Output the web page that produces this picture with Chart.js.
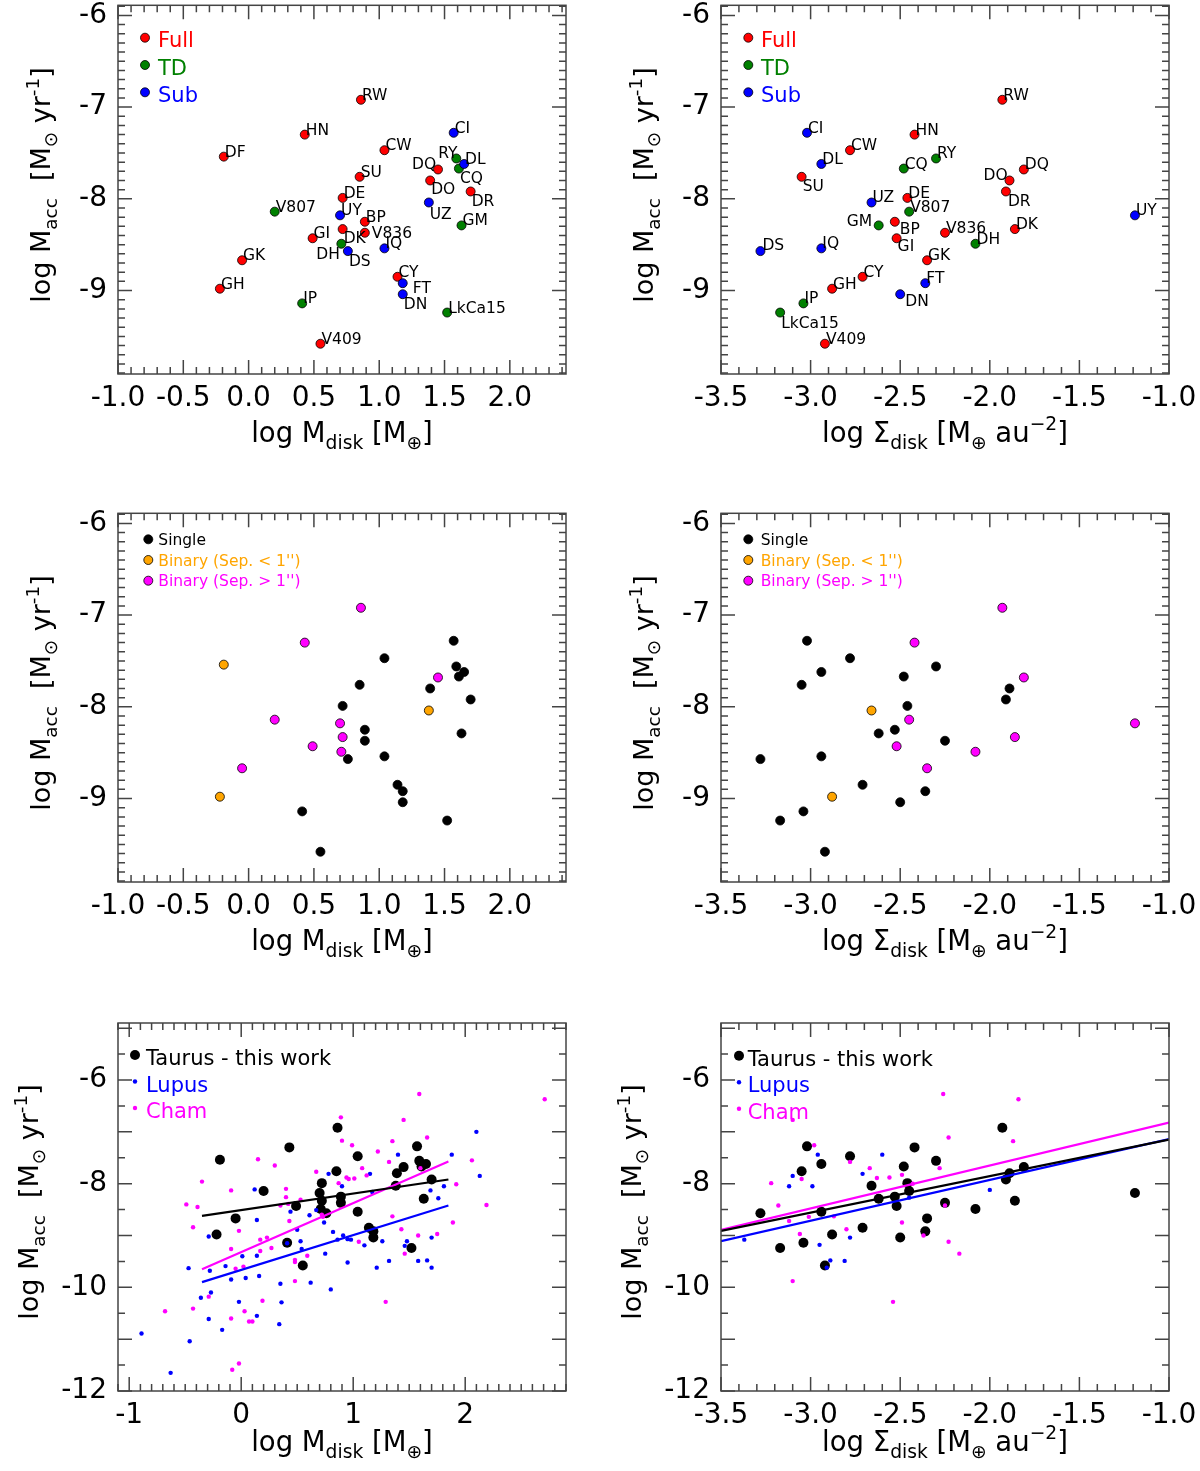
<!DOCTYPE html>
<html>
<head>
<meta charset="UTF-8">
<title>Accretion rate vs disk mass</title>
<script src="https://cdn.jsdelivr.net/npm/chart.js"></script>
<style>
  body { margin: 0; background: #fff; }
  #page { position: relative; width: 1200px; height: 1471px; }
  canvas { position: absolute; }
</style>
</head>
<body>
<div id="page">
  <canvas id="tl" width="600" height="508" style="left:0;top:0"></canvas>
  <canvas id="tr" width="600" height="508" style="left:600px;top:0"></canvas>
  <canvas id="ml" width="600" height="510" style="left:0;top:508px"></canvas>
  <canvas id="mr" width="600" height="510" style="left:600px;top:508px"></canvas>
  <canvas id="bl" width="600" height="453" style="left:0;top:1018px"></canvas>
  <canvas id="br" width="600" height="453" style="left:600px;top:1018px"></canvas>
</div>
<script>
// Taurus sample (this work)
const taurusNames = ['RW','HN','DF','CW','CI','RY','DL','DQ','CQ','SU','DO','DR','DE','UZ','V807','UY',
  'BP','GM','DK','V836','GI','DH','DS','IQ','GK','CY','FT','GH','DN','IP','LkCa15','V409'];
const logMdisk = [0.86,0.43,-0.19,1.04,1.57,1.59,1.65,1.45,1.61,0.85,1.39,1.70,0.72,1.38,0.20,0.70,
  0.89,1.63,0.72,0.89,0.49,0.71,0.76,1.04,-0.05,1.14,1.18,-0.22,1.18,0.41,1.52,0.55];
const logSigma = [-1.93,-2.42,null,-2.78,-3.02,-2.30,-2.94,-1.81,-2.48,-3.05,-1.89,-1.91,-2.46,-2.66,-2.45,-1.19,
  -2.53,-2.62,-1.86,-2.25,-2.52,-2.08,-3.28,-2.94,-2.35,-2.71,-2.36,-2.88,-2.50,-3.04,-3.17,-2.92];
const logMacc = [-6.92,-7.30,-7.54,-7.47,-7.28,-7.56,-7.62,-7.68,-7.67,-7.76,-7.80,-7.92,-7.99,-8.04,-8.14,-8.18,
  -8.25,-8.29,-8.33,-8.37,-8.43,-8.49,-8.57,-8.54,-8.67,-8.85,-8.92,-8.98,-9.04,-9.14,-9.24,-9.58];
const diskType = ['Full','Full','Full','Full','Sub','TD','Sub','Full','TD','Full','Full','Full','Full','Sub','TD','Sub',
  'Full','TD','Full','Full','Full','TD','Sub','Sub','Full','Full','Sub','Full','Sub','TD','TD','Full'];
const multiplicity = ['B>1','B>1','B<1','S','S','S','S','B>1','S','S','S','S','S','B<1','B>1','B>1',
  'S','S','B>1','S','B>1','B>1','S','S','B>1','S','S','B<1','S','S','S','S'];

// Lupus comparison sample
const lupusMdisk = [-0.89,-0.63,-0.46,-0.47,-0.36,-0.29,-0.28,-0.27,-0.29,-0.17,-0.14,-0.09,-0.02,0.01,0.04,0.12,
  0.14,0.14,0.14,0.16,0.35,0.36,0.34,0.41,0.44,0.50,0.53,0.54,0.61,0.62,0.67,0.74,0.75,0.78,0.80,0.82,0.86,0.90,
  0.91,0.95,0.95,0.98,1.10,1.15,1.17,1.21,1.26,1.32,1.40,1.46,1.48,1.58,1.66,1.69,1.70,1.70,1.76,1.81,1.88,2.10,2.13];
const lupusMaccM = [-10.89,-11.65,-11.04,-9.63,-10.20,-9.02,-9.68,-10.10,-10.61,-10.82,-9.59,-9.85,-10.28,-9.40,-9.82,-8.11,
  -8.70,-10.55,-9.39,-9.78,-9.93,-10.29,-10.71,-9.15,-8.54,-8.89,-9.11,-9.26,-8.61,-9.91,-8.51,-8.75,-9.35,-7.81,-10.04,-8.93,-9.08,-8.05,
  -9.00,-9.07,-9.52,-9.08,-9.19,-7.81,-8.16,-9.62,-9.11,-9.49,-7.44,-9.20,-9.11,-9.49,-9.48,-8.13,-9.04,-9.62,-8.28,-8.05,-7.44,-7.00,-7.85];
const lupusSigma = [-3.37,-3.12,-3.10,-2.99,-2.96,-2.95,-2.91,-2.89,-2.81,-2.78,-2.71,-2.60,-2.45,-2.00];
const lupusMaccS = [-9.08,-8.05,-7.85,-8.05,-7.44,-9.18,-9.62,-9.48,-9.49,-9.04,-7.81,-7.44,-8.27,-8.12];

// Chamaeleon comparison sample
const chamMdisk = [-0.68,-0.49,-0.43,-0.43,-0.39,-0.35,-0.29,-0.09,-0.09,-0.09,-0.08,-0.05,-0.02,-0.02,0.02,0.03,
  0.07,0.10,0.15,0.17,0.17,0.19,0.23,0.27,0.30,0.35,0.40,0.40,0.42,0.43,0.48,0.48,0.48,0.53,0.59,0.67,0.72,0.73,
  0.87,0.89,0.90,0.94,0.96,0.99,1.01,1.08,1.12,1.22,1.05,1.29,1.32,1.35,1.35,1.43,1.45,1.46,1.58,1.59,1.60,1.66,
  1.75,1.89,1.92,2.06,2.19,2.71];
const chamMaccM = [-10.46,-8.40,-8.84,-10.41,-8.45,-7.96,-10.18,-8.13,-9.26,-10.60,-11.59,-9.64,-8.91,-11.47,-9.60,-10.46,
  -10.66,-10.66,-7.53,-9.08,-9.30,-10.26,-9.04,-9.24,-7.65,-8.42,-8.10,-8.26,-8.39,-8.72,-9.47,-9.51,-9.88,-8.31,-9.39,-7.77,-8.60,-8.64,
  -7.99,-6.72,-7.17,-7.88,-7.91,-7.26,-7.90,-7.70,-7.84,-7.38,-9.12,-10.28,-7.58,-7.18,-8.63,-8.88,-6.77,-9.35,-9.00,-6.27,-7.70,-7.11,
  -8.97,-8.75,-8.01,-7.55,-8.41,-6.37];
const chamSigma = [-3.22,-3.18,-3.12,-3.10,-3.10,-3.06,-3.05,-3.01,-2.98,-2.87,-2.80,-2.78,-2.67,-2.63,-2.56,-2.54,
  -2.49,-2.49,-2.43,-2.37,-2.28,-2.26,-2.25,-2.23,-2.23,-2.17,-1.87,-1.84];
const chamMaccS = [-7.99,-8.42,-8.72,-6.77,-9.88,-8.97,-7.91,-8.64,-7.26,-8.63,-8.88,-7.58,-7.70,-7.89,-7.88,-10.28,
  -7.83,-8.75,-8.00,-9.00,-7.70,-6.27,-8.42,-7.11,-9.12,-9.35,-7.18,-6.37];

// linear fits (end points)
const fitMdiskX = [-0.35, 1.85];
const taurusFitM = [-8.62, -7.92];
const lupusFitM = [-9.90, -8.42];
const chamFitM = [-9.65, -7.57];
const fitSigmaX = [-3.5, -1.0];
const taurusFitS = [-8.91, -7.15];
const lupusFitS = [-9.11, -7.14];
const chamFitS = [-8.89, -6.82];

// tick values
const mdiskTicks = [-1.0, -0.5, 0.0, 0.5, 1.0, 1.5, 2.0];
const mdiskTicksWide = [-1, 0, 1, 2];
const sigmaTicks = [-3.5, -3.0, -2.5, -2.0, -1.5, -1.0];
const maccTicksUpper = [-9, -8, -7, -6];
const maccTicksLower = [-12, -10, -8, -6];

// --- styling ---
const FONT = "'DejaVu Sans', 'Liberation Sans', sans-serif";
const typeColor = { Full: '#ff0000', TD: '#008000', Sub: '#0000ff' };
const multColor = { 'S': '#000000', 'B<1': '#ffa500', 'B>1': '#ff00ff' };
const C_LUPUS = '#0000ff', C_CHAM = '#ff00ff';

// name label offsets [dx, dy] in px from the point (default: upper right)
const labelOffM = { RY: [-18, 0], DQ: [-26, 0], CQ: [1, 14], DO: [1, 14], DR: [1, 15], UZ: [1, 17], DK: [1, 14],
  V836: [7, 5], DH: [-25, 15], DS: [1, 15], FT: [10, 10], DN: [1, 15] };
const labelOffS = { DO: [-26, 0], SU: [1, 14], DR: [2, 15], GM: [-32, 1], BP: [5, 12], GI: [1, 13], DS: [2, -1],
  DN: [5, 12], LkCa15: [1, 15] };

const xTitleM = [['log M', ''], ['disk', 'sub'], [' [M', ''], ['\u2295', 'sub'], [']', '']];
const xTitleS = [['log \u03a3', ''], ['disk', 'sub'], [' [M', ''], ['\u2295', 'sub'], [' au', ''], ['\u22122', 'sup'], [']', '']];
const yTitle = [['log M', ''], ['acc', 'sub'], ['  [M', ''], ['\u2299', 'sub'], [' yr', ''], ['-1', 'sup'], [']', '']];

function pts(xs, ys, keep) {
  const out = [];
  xs.forEach((x, i) => {
    if (x === null || (keep && !keep(i))) return;
    out.push({ x: x, y: ys[i], name: taurusNames[i] });
  });
  return out;
}
function pairs(xs, ys) { return xs.map((x, i) => ({ x: x, y: ys[i] })); }

function rich(ctx, segs, F, x, y, rot) {
  ctx.save();
  ctx.translate(x, y);
  if (rot) ctx.rotate(-Math.PI / 2);
  ctx.textAlign = 'left'; ctx.textBaseline = 'alphabetic'; ctx.fillStyle = '#000';
  const size = s => (s[1] ? F * 0.68 : F);
  let w = 0;
  segs.forEach(s => { ctx.font = size(s) + 'px ' + FONT; w += ctx.measureText(s[0]).width; });
  let cx = -w / 2;
  segs.forEach(s => {
    ctx.font = size(s) + 'px ' + FONT;
    const dy = s[1] === 'sub' ? F * 0.27 : (s[1] === 'sup' ? -F * 0.42 : 0);
    ctx.fillText(s[0], cx, dy);
    cx += ctx.measureText(s[0]).width;
  });
  ctx.restore();
}

function deco(o) {
  return {
    id: 'deco',
    afterDatasetsDraw(chart) {
      if (!o.labels) return;
      const ctx = chart.ctx;
      ctx.save();
      ctx.font = '15.5px ' + FONT; ctx.fillStyle = '#000';
      ctx.textAlign = 'left'; ctx.textBaseline = 'alphabetic';
      chart.data.datasets.forEach((ds, di) => {
        const meta = chart.getDatasetMeta(di);
        ds.data.forEach((d, i) => {
          if (!d.name) return;
          const el = meta.data[i];
          const off = o.labels[d.name] || [1, 0];
          ctx.fillText(d.name, el.x + off[0], el.y + off[1]);
        });
      });
      ctx.restore();
    },
    afterDraw(chart) {
      const ctx = chart.ctx, a = chart.chartArea, xs = chart.scales.x, ys = chart.scales.y;
      ctx.save();
      ctx.strokeStyle = '#444'; ctx.lineWidth = 1.5;
      ctx.strokeRect(a.left, a.top, a.right - a.left, a.bottom - a.top);
      ctx.beginPath();
      const mark = (sc, minor, major, fn) => {
        const n0 = Math.ceil(sc.min / minor - 1e-6), n1 = Math.floor(sc.max / minor + 1e-6);
        for (let n = n0; n <= n1; n++) {
          const r = n * minor / major;
          fn(sc.getPixelForValue(n * minor), Math.abs(r - Math.round(r)) < 1e-6 ? 14 : 7);
        }
      };
      mark(xs, o.xMinor, o.xMajor, (p, len) => {
        ctx.moveTo(p, a.bottom); ctx.lineTo(p, a.bottom - len);
        ctx.moveTo(p, a.top); ctx.lineTo(p, a.top + len);
      });
      mark(ys, o.yMinor, o.yMajor, (p, len) => {
        ctx.moveTo(a.left, p); ctx.lineTo(a.left + len, p);
        ctx.moveTo(a.right, p); ctx.lineTo(a.right - len, p);
      });
      ctx.stroke();
      ctx.restore();

      rich(ctx, o.xTitle, 27.5, (a.left + a.right) / 2, o.xTitleY, false);
      rich(ctx, yTitle, 27, a.left - o.yTitleGap, o.yTitleC, true);

      const lg = o.legend;
      ctx.save();
      ctx.textAlign = 'left'; ctx.textBaseline = 'alphabetic';
      lg.items.forEach((it, i) => {
        const y = lg.y + i * lg.dy;
        ctx.beginPath();
        ctx.arc(lg.x, y, it.r, 0, 2 * Math.PI);
        ctx.fillStyle = it.color; ctx.fill();
        if (it.edge) { ctx.lineWidth = 0.8; ctx.strokeStyle = '#000'; ctx.stroke(); }
        ctx.font = lg.size + 'px ' + FONT;
        ctx.fillStyle = it.color;
        ctx.fillText(it.text, lg.tx, y + lg.base);
      });
      ctx.restore();
    }
  };
}

function panel(id, o) {
  const padR = 600 - o.L - 448;
  const tickFont = { family: FONT, size: 28 };
  return new Chart(document.getElementById(id), {
    type: 'scatter',
    data: { datasets: o.datasets },
    options: {
      responsive: false,
      animation: false,
      events: [],
      layout: { padding: { top: 5, right: padR, left: 0, bottom: 0 } },
      plugins: { legend: { display: false }, tooltip: { enabled: false } },
      scales: {
        x: {
          type: 'linear', min: o.xMin, max: o.xMax, bounds: 'data',
          grid: { display: false, drawTicks: false }, border: { display: false },
          ticks: { autoSkip: false, maxRotation: 0, padding: 8, color: '#000', font: tickFont, callback: o.xFmt },
          afterBuildTicks: s => { s.ticks = o.xTicks.map(v => ({ value: v })); },
          afterFit: s => { s.height = o.xh; s.paddingLeft = 0; s.paddingRight = 0; }
        },
        y: {
          type: 'linear', min: o.yMin, max: o.yMax, bounds: 'data',
          grid: { display: false, drawTicks: false }, border: { display: false },
          ticks: { autoSkip: false, padding: 11, color: '#000', font: tickFont, callback: v => String(v) },
          afterBuildTicks: s => { s.ticks = o.yTicks.map(v => ({ value: v })); },
          afterFit: s => { s.width = o.L; s.paddingTop = 0; s.paddingBottom = 0; }
        }
      }
    },
    plugins: [deco(o)]
  });
}

const fmt1 = v => (Math.abs(v) < 1e-9 ? 0 : v).toFixed(1);
const fmtInt = v => String(Math.round(v));

function dot(data, color, r, edge, order) {
  return { data: data, backgroundColor: color, borderColor: '#000', borderWidth: edge ? 0.8 : 0,
    pointRadius: r, pointHoverRadius: r, order: order || 0 };
}
function fitLine(xs, ys, color) {
  return { data: pairs(xs, ys), showLine: true, borderColor: color, borderWidth: 2.2, pointRadius: 0, order: 0 };
}

const typeSets = xs => ['Sub', 'TD', 'Full'].map(t =>
  dot(pts(xs, logMacc, i => diskType[i] === t), typeColor[t], 4.5, true));
const multSets = xs => ['S', 'B<1', 'B>1'].map(m =>
  dot(pts(xs, logMacc, i => multiplicity[i] === m), multColor[m], 4.5, true));

const legendType = [
  { text: 'Full', color: typeColor.Full, r: 4.5, edge: true },
  { text: 'TD', color: typeColor.TD, r: 4.5, edge: true },
  { text: 'Sub', color: typeColor.Sub, r: 4.5, edge: true }];
const legendMult = [
  { text: 'Single', color: multColor['S'], r: 4.5, edge: true },
  { text: "Binary (Sep. < 1'')", color: multColor['B<1'], r: 4.5, edge: true },
  { text: "Binary (Sep. > 1'')", color: multColor['B>1'], r: 4.5, edge: true }];
const legendSample = [
  { text: 'Taurus - this work', color: '#000000', r: 5 },
  { text: 'Lupus', color: C_LUPUS, r: 2.2 },
  { text: 'Cham', color: C_CHAM, r: 2.2 }];

const mdiskAxis = { xMin: -1.0, xMax: 2.43, xTicks: mdiskTicks, xMinor: 0.1, xMajor: 0.5, xFmt: fmt1, xTitle: xTitleM };
const sigmaAxis = { xMin: -3.5, xMax: -1.0, xTicks: sigmaTicks, xMinor: 0.1, xMajor: 0.5, xFmt: fmt1, xTitle: xTitleS };
const upperY = { yMin: -9.91, yMax: -5.89, yTicks: maccTicksUpper, yMinor: 0.1, yMajor: 1,
  xTitleY: 442, yTitleC: 185, yTitleGap: 68 };
const lowerY = { yMin: -12, yMax: -4.9, yTicks: maccTicksLower, yMinor: 0.5, yMajor: 1,
  xTitleY: 433, yTitleC: 184, yTitleGap: 80 };

panel('tl', Object.assign({ L: 118, xh: 134, datasets: typeSets(logMdisk), labels: labelOffM,
  legend: { x: 145, y: 37.7, dy: 27.3, tx: 158, base: 9.6, size: 21, items: legendType } }, mdiskAxis, upperY));
panel('tr', Object.assign({ L: 121, xh: 134, datasets: typeSets(logSigma), labels: labelOffS,
  legend: { x: 148.3, y: 37.7, dy: 27.3, tx: 161, base: 9.6, size: 21, items: legendType } }, sigmaAxis, upperY));
panel('ml', Object.assign({ L: 118, xh: 136, datasets: multSets(logMdisk),
  legend: { x: 148.3, y: 31.3, dy: 20.7, tx: 158.3, base: 5.5, size: 15.5, items: legendMult } }, mdiskAxis, upperY));
panel('mr', Object.assign({ L: 121, xh: 136, datasets: multSets(logSigma),
  legend: { x: 148.3, y: 31.3, dy: 20.7, tx: 160.7, base: 5.5, size: 15.5, items: legendMult } }, sigmaAxis, upperY));

panel('bl', Object.assign({ L: 118, xh: 80,
  datasets: [
    fitLine(fitMdiskX, taurusFitM, '#000000'),
    fitLine(fitMdiskX, lupusFitM, C_LUPUS),
    fitLine(fitMdiskX, chamFitM, C_CHAM),
    dot(pairs(chamMdisk, chamMaccM), C_CHAM, 2.2, false, 1),
    dot(pairs(lupusMdisk, lupusMaccM), C_LUPUS, 2.2, false, 2),
    dot(pts(logMdisk, logMacc).map(p => ({ x: p.x, y: p.y })), '#000000', 5, false, 3)
  ],
  legend: { x: 135, y: 37, dy: 26.5, tx: 146, base: 10, size: 21, items: legendSample } },
  mdiskAxis, { xMin: -1.1, xMax: 2.9, xTicks: mdiskTicksWide, xMinor: 0.1, xMajor: 1, xFmt: fmtInt }, lowerY));

panel('br', Object.assign({ L: 121, xh: 80,
  datasets: [
    fitLine(fitSigmaX, taurusFitS, '#000000'),
    fitLine(fitSigmaX, lupusFitS, C_LUPUS),
    fitLine(fitSigmaX, chamFitS, C_CHAM),
    dot(pairs(chamSigma, chamMaccS), C_CHAM, 2.2, false, 1),
    dot(pairs(lupusSigma, lupusMaccS), C_LUPUS, 2.2, false, 2),
    dot(pts(logSigma, logMacc).map(p => ({ x: p.x, y: p.y })), '#000000', 5, false, 3)
  ],
  legend: { x: 139, y: 37.7, dy: 26.5, tx: 147.7, base: 10, size: 21, items: legendSample } },
  sigmaAxis, lowerY));
</script>
</body>
</html>
